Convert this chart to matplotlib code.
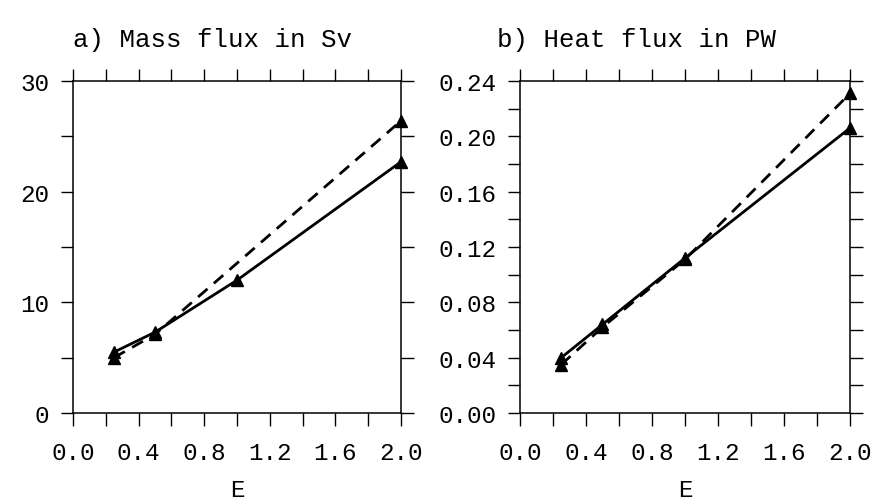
import matplotlib
matplotlib.use("Agg")
import matplotlib.pyplot as plt
from matplotlib.ticker import MultipleLocator, FormatStrFormatter

# E values
e_vals = [0.25, 0.5, 1.0, 2.0]
e_dash_mass = [0.25, 0.5, 2.0]

# a) mass flux (Sv)
mass_solid = [5.5, 7.3, 12.0, 22.7]
mass_dash = [5.0, 7.1, 26.4]

# b) heat flux (PW)
heat_solid = [0.040, 0.064, 0.112, 0.206]
heat_dash = [0.035, 0.062, 0.111, 0.231]

titles = ["a) Mass flux in Sv", "b) Heat flux in PW"]

plt.rcParams['font.family'] = ['Liberation Mono', 'DejaVu Sans Mono']

fig = plt.figure(figsize=(8.76, 5.02), dpi=100)
ax1 = fig.add_axes([0.0833, 0.1753, 0.3745, 0.6614])
ax2 = fig.add_axes([0.5936, 0.1753, 0.3767, 0.6614])

ax1.plot(e_vals, mass_solid, '-', color='black', lw=2, marker='^', ms=9, clip_on=False)
ax1.plot(e_dash_mass, mass_dash, '--', color='black', lw=2, marker='^', ms=9,
         dashes=(4.5, 3), clip_on=False)
ax2.plot(e_vals, heat_solid, '-', color='black', lw=2, marker='^', ms=9, clip_on=False)
ax2.plot(e_vals, heat_dash, '--', color='black', lw=2, marker='^', ms=9,
         dashes=(4.5, 3), clip_on=False)

ax1.set_ylim(0, 30)
ax1.yaxis.set_major_locator(MultipleLocator(10))
ax1.yaxis.set_minor_locator(MultipleLocator(5))
ax2.set_ylim(0, 0.24)
ax2.yaxis.set_major_locator(MultipleLocator(0.04))
ax2.yaxis.set_minor_locator(MultipleLocator(0.02))
ax2.yaxis.set_major_formatter(FormatStrFormatter('%.2f'))

for ax in (ax1, ax2):
    ax.set_xlim(0, 2.0)
    ax.xaxis.set_major_locator(MultipleLocator(0.4))
    ax.xaxis.set_minor_locator(MultipleLocator(0.2))
    ax.xaxis.set_major_formatter(FormatStrFormatter('%.1f'))
    ax.tick_params(which='both', direction='out', top=True, right=True,
                   length=9, width=1, labelsize=17.5, pad=8)
    ax.tick_params(axis='x', which='both', pad=11)
    for sp in ax.spines.values():
        sp.set_linewidth(1.1)

fig.text(0.2705, 0.022, "E", fontsize=17.5, ha='center', va='center')
fig.text(0.782, 0.022, "E", fontsize=17.5, ha='center', va='center')

fig.text(0.083, 0.92, titles[0], fontsize=18.5, ha='left', va='center')
fig.text(0.567, 0.92, titles[1], fontsize=18.5, ha='left', va='center')

fig.savefig("out.png", dpi=100)
